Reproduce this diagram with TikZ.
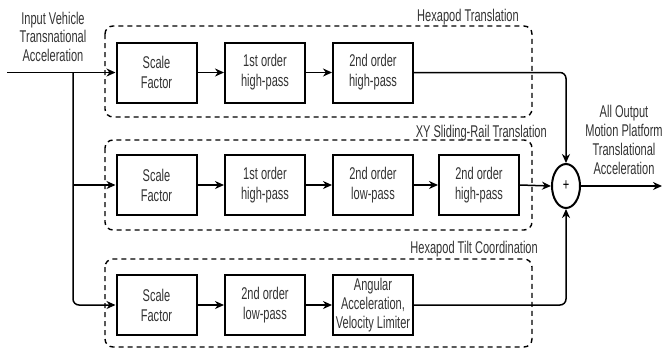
\documentclass[tikz,border=0pt]{standalone}
\usepackage{fontspec}
\setmainfont{Liberation Sans}[FakeStretch=0.65]
\usetikzlibrary{arrows.meta,shapes.geometric}
\tikzset{
  blk/.style={draw, line width=2pt, minimum width=80pt, minimum height=60pt, align=center, inner sep=1pt, font=\fontsize{17}{20}\selectfont, text=black!80},
  grp/.style={draw, dashed, dash pattern=on 5pt off 4pt, line width=1.4pt, rounded corners=8pt},
  lbl/.style={font=\fontsize{17}{19}\selectfont, text=black!80, inner sep=0pt, align=center},
  con/.style={line width=1.5pt, rounded corners=6pt},
  arr/.style={con, -{Stealth[length=9pt,width=8pt]}},
}
\begin{document}
\begin{tikzpicture}[x=1pt,y=-1pt]
\useasboundingbox (0,0) rectangle (662,349);
% groups
\draw[grp] (105,26) rectangle (532,117);
\draw[grp] (105,140) rectangle (532,230);
\draw[grp] (105,259) rectangle (532,347);
\node[lbl, anchor=east] (g1) at (519,17) {Hexapod Translation};
\node[lbl, anchor=east] (g2) at (547,133) {XY Sliding-Rail Translation};
\node[lbl, anchor=east] (g3) at (538,249) {Hexapod Tilt Coordination};
% blocks row 1
\node[blk] (a1) at (156.5,72.5) {Scale\\Factor};
\node[blk] (a2) at (265,72.5) {1st order\\high-pass};
\node[blk] (a3) at (373,72.5) {2nd order\\high-pass};
% row 2
\node[blk] (b1) at (156.5,185) {Scale\\Factor};
\node[blk] (b2) at (265,185) {1st order\\high-pass};
\node[blk] (b3) at (373,185) {2nd order\\low-pass};
\node[blk] (b4) at (479,185) {2nd order\\high-pass};
% row 3
\node[blk] (c1) at (156.5,305) {Scale\\Factor};
\node[blk] (c2) at (265,305) {2nd order\\low-pass};
\node[blk, font=\fontsize{17}{19}\selectfont] (c3) at (373,305) {Angular\\Acceleration,\\Velocity Limiter};
% sum
\node[draw, ellipse, line width=2pt, minimum width=28pt, minimum height=44pt, inner sep=0pt, font=\fontsize{17}{18}\selectfont] (s) at (566,186) {+};
% labels
\node[lbl, font=\fontsize{17}{18.5}\selectfont] (in) at (53,36.5) {Input Vehicle\\Transnational\\Acceleration};
\node[lbl] (out) at (624,139.5) {All Output\\Motion Platform\\Translational\\Acceleration};
% connectors
\coordinate (src) at (7,72.5);
\coordinate (j) at (73,72.5);
\coordinate (dst) at (662,186);
\draw[arr] (src) -- (a1.west);
\draw[arr] (j) |- (c1.west);
\draw[arr] (j |- b1.west) -- (b1.west);
\draw[arr] (a1) -- (a2);
\draw[arr] (a2) -- (a3);
\draw[arr] (b1) -- (b2);
\draw[arr] (b2) -- (b3);
\draw[arr] (b3) -- (b4);
\draw[arr] (c1) -- (c2);
\draw[arr] (c2) -- (c3);
\draw[arr] (a3.east) -| (s.north);
\draw[arr] (b4.east) -- (s.west);
\draw[arr] (c3.east) -| (s.south);
\draw[arr] (s.east) -- (dst);
\end{tikzpicture}
\end{document}
